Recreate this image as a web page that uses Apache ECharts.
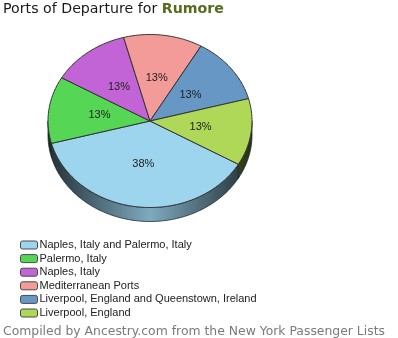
<!DOCTYPE html>
<html>
<head>
<meta charset="utf-8">
<script src="https://cdn.jsdelivr.net/npm/echarts@6/dist/echarts.min.js"></script>
<style>
  html, body { margin: 0; padding: 0; background: #fff; }
  #chart { width: 398px; height: 338px; }
</style>
</head>
<body>
<div id="chart"></div>
<script>
// Ports of departure (passenger counts per port)
const categories = [
  'Naples, Italy and Palermo, Italy',
  'Palermo, Italy',
  'Naples, Italy',
  'Mediterranean Ports',
  'Liverpool, England and Queenstown, Ireland',
  'Liverpool, England'
];
const counts = [3, 1, 1, 1, 1, 1];
const colors = ['#9dd5ef', '#55d655', '#c263d6', '#f29b98', '#6697c5', '#afd858'];

const total = counts.reduce((a, b) => a + b, 0);

// Tilted-pie geometry
const CX = 150, CY = 121, RX = 102, RY = 86.5, DEPTH = 14, START = 30;

function pt(deg, dy) {
  const t = deg * Math.PI / 180;
  return [CX + RX * Math.cos(t), CY + RY * Math.sin(t) + (dy || 0)];
}

function shade(hex, f) {
  const n = parseInt(hex.slice(1), 16);
  const r = (n >> 16) & 255, g = (n >> 8) & 255, b = n & 255;
  const m = v => Math.max(0, Math.min(255, Math.round(v * f)));
  return 'rgb(' + m(r) + ',' + m(g) + ',' + m(b) + ')';
}

function arc(a, b, dy) {
  const pts = [];
  const steps = Math.max(2, Math.ceil(Math.abs(b - a)));
  for (let i = 0; i <= steps; i++) pts.push(pt(a + (b - a) * i / steps, dy));
  return pts;
}

function makeRender(idx) {
  return function (params, api) {
    const before = counts.slice(0, idx).reduce((a, b) => a + b, 0);
    const v = api.value(0);
    const s = START + 360 * before / total;
    const e = s + 360 * v / total;
    const color = colors[idx];
    const children = [];

    // visible wall: angles whose sine is positive (front half)
    [[0, 180], [360, 540]].forEach(function (r) {
      const a = Math.max(s, r[0]), b = Math.min(e, r[1]);
      if (b > a) {
        const top = arc(a, b, 0);
        const bot = arc(b, a, DEPTH);
        children.push({
          type: 'polygon',
          shape: { points: top.concat(bot) },
          style: {
            fill: new echarts.graphic.LinearGradient(CX - RX, 0, CX + RX, 0, [
              { offset: 0, color: shade(color, 0.22) },
              { offset: 0.5, color: shade(color, 0.8) },
              { offset: 1, color: shade(color, 0.22) }
            ], true),
            stroke: '#1e2a30',
            lineWidth: 0.8
          }
        });
      }
    });

    // top face
    children.push({
      type: 'polygon',
      shape: { points: [[CX, CY]].concat(arc(s, e, 0)) },
      style: { fill: color, stroke: '#333', lineWidth: 1 }
    });

    // percentage label
    const mid = (s + e) / 2 * Math.PI / 180;
    children.push({
      type: 'text',
      x: CX + 0.5 * RX * Math.cos(mid),
      y: CY + 0.5 * RY * Math.sin(mid),
      style: {
        text: Math.round(v / total * 100) + '%',
        align: 'center',
        verticalAlign: 'middle',
        fill: '#222',
        font: '11px "Liberation Sans", Arial, sans-serif'
      }
    });

    return { type: 'group', children: children };
  };
}

const chart = echarts.init(document.getElementById('chart'), null, { renderer: 'canvas' });

chart.setOption({
  animation: false,
  title: [
    {
      left: -2,
      top: -3,
      text: '{a|Ports of Departure for }{b|Rumore}',
      textStyle: {
        rich: {
          a: { fontFamily: 'DejaVu Sans', fontSize: 14.2, fontWeight: 'normal', color: '#1a1a1a' },
          b: { fontFamily: 'DejaVu Sans', fontSize: 14.2, fontWeight: 'bold', color: '#566b1e' }
        }
      }
    },
    {
      left: -2,
      top: 321,
      text: 'Compiled by Ancestry.com from the New York Passenger Lists',
      textStyle: { fontFamily: 'DejaVu Sans', fontSize: 12.4, fontWeight: 'normal', color: '#7a7a7a' }
    }
  ],
  legend: {
    orient: 'vertical',
    left: 15,
    top: 234,
    itemWidth: 17,
    itemHeight: 8,
    itemGap: 1.6,
    icon: 'roundRect',
    itemStyle: { borderColor: '#4a4a4a', borderWidth: 1 },
    textStyle: {
      fontFamily: '"Liberation Sans", Arial, sans-serif',
      fontSize: 11,
      color: '#222',
      lineHeight: 12,
      padding: [0, 0, 0, -3]
    },
    data: categories
  },
  series: categories.map(function (name, i) {
    return {
      type: 'custom',
      name: name,
      coordinateSystem: 'none',
      itemStyle: { color: colors[i] },
      renderItem: makeRender(i),
      data: [[counts[i]]]
    };
  })
});
</script>
</body>
</html>
